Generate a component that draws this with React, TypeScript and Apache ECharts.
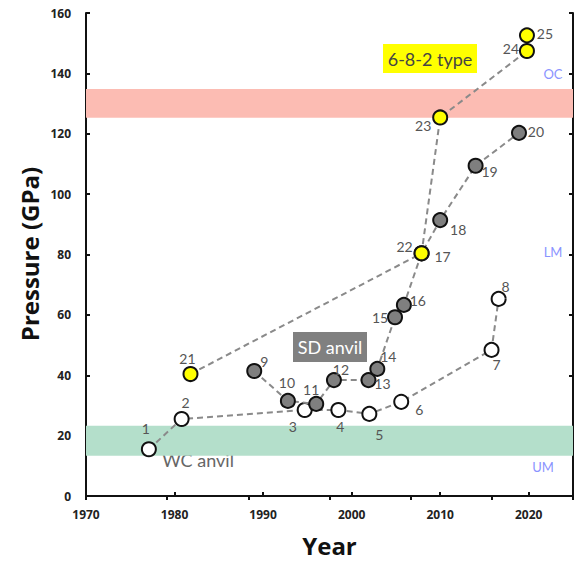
import React, { useEffect, useRef } from "react";
import * as echarts from "echarts";

// WC anvil (open circles), points 1-8
const wcIds = ["1", "2", "3", "4", "5", "6", "7", "8"];
const wcYears = [1977.1, 1980.8, 1994.7, 1998.5, 2002.0, 2005.6, 2015.8, 2016.6];
const wcPressures = [15.5, 25.5, 28.5, 28.5, 27.2, 31.2, 48.4, 65.3];

// SD anvil (gray), points 9-20
const sdIds = ["9", "10", "11", "12", "13", "14", "15", "16", "17", "18", "19", "20"];
const sdYears = [1989.0, 1992.8, 1996.0, 1998.0, 2001.9, 2002.9, 2004.9, 2005.9, 2007.9, 2010.0, 2014.0, 2018.9];
const sdPressures = [41.4, 31.5, 30.5, 38.4, 38.4, 42.1, 59.2, 63.3, 80.4, 91.4, 109.4, 120.3];

// 6-8-2 type (yellow), points 21-25
const ygIds = ["21", "22", "23", "24", "25"];
const ygYears = [1981.8, 2007.9, 2010.0, 2019.8, 2019.8];
const ygPressures = [40.4, 80.4, 125.4, 147.4, 152.6];

// pressure bands (GPa)
const bandDpp = [125.3, 134.8];
const bandMTZ = [13.3, 23.3];

const yTicks = { min: 0, max: 160, interval: 20 };
const xTicks = { min: 1970, max: 2025, interval: 10 };

// label offsets (px), styling only
const wcOffsets = [[-3, -21], [4, -17], [-12, 17], [2, 17], [10, 21], [18, 8], [5, 15], [7, -12]];
const sdOffsets = [[10, -10], [-1, -18], [-5, -14], [7, -11], [14, 3], [11, -12], [-15, 0], [14, -4], [21, 3], [18, 9], [14, 6], [17, -1]];
const ygOffsets = [[-3, -16], [-17, -7], [-17, 8], [-16, -3], [18, -2]];

const LABEL_FONT = "Lato, 'DejaVu Sans', sans-serif";

function makeData(ids: string[], xs: number[], ys: number[], offs: number[][]) {
  return ids.map((id, i) => ({
    name: id,
    value: [xs[i], ys[i]],
    label: { offset: offs[i] },
  }));
}

function makeSeries(name: string, ids: string[], xs: number[], ys: number[], offs: number[][], fill: string, z: number) {
  return {
    name,
    type: "line",
    xAxisIndex: 0,
    yAxisIndex: 0,
    data: makeData(ids, xs, ys, offs),
    symbol: "circle",
    symbolSize: 14,
    showAllSymbol: true,
    z,
    lineStyle: { color: "#8a8a8a", width: 2, type: [6, 4] },
    itemStyle: { color: fill, borderColor: "#111", borderWidth: 2 },
    label: {
      show: true,
      position: "inside",
      formatter: (p: any) => p.name,
      color: "#555",
      fontSize: 14,
      fontFamily: LABEL_FONT,
      align: "center",
      verticalAlign: "middle",
    },
    emphasis: { disabled: true },
  };
}

export default function App() {
  const ref = useRef<HTMLDivElement>(null);
  useEffect(() => {
    if (!ref.current) return;
    const chart = echarts.init(ref.current, undefined, { renderer: "svg" });
    const axisLine = { show: true, lineStyle: { color: "#111", width: 2 } };
    const axisTick = { show: true, inside: true, length: 4, lineStyle: { color: "#111", width: 2 } };
    chart.setOption({
      animation: false,
      grid: { left: 86, right: 6, top: 13, bottom: 69, containLabel: false, outerBoundsMode: "none" },
      xAxis: [
        {
          type: "value",
          min: xTicks.min,
          max: xTicks.max,
          interval: xTicks.interval,
          position: "bottom",
          axisLine,
          axisTick,
          splitLine: { show: false },
          axisLabel: {
            formatter: (v: number) => (v % 10 === 0 ? String(v) : ""),
            color: "#222",
            fontWeight: "bold",
            fontSize: 12,
            fontFamily: "'Open Sans', sans-serif",
            margin: 12,
          },
          name: "Year",
          nameLocation: "middle",
          nameGap: 37,
          nameTextStyle: { color: "#111", fontWeight: "bold", fontSize: 24, fontFamily: "'Open Sans', sans-serif" },
        },
        {
          type: "value",
          min: 0,
          max: 6,
          interval: 1,
          position: "top",
          axisLine,
          axisTick,
          splitLine: { show: false },
          axisLabel: { show: false },
        },
      ],
      yAxis: [
        {
          type: "value",
          min: yTicks.min,
          max: yTicks.max,
          interval: yTicks.interval,
          position: "left",
          axisLine,
          axisTick,
          splitLine: { show: false },
          axisLabel: {
            color: "#222",
            fontWeight: "bold",
            fontSize: 12,
            fontFamily: "'Open Sans', sans-serif",
            margin: 15,
          },
        },
        {
          type: "value",
          min: yTicks.min,
          max: yTicks.max,
          interval: yTicks.interval,
          position: "right",
          axisLine,
          axisTick,
          splitLine: { show: false },
          axisLabel: { show: false },
        },
      ],
      series: [
        {
          type: "line",
          data: [],
          z: 1,
          markArea: {
            silent: true,
            data: [
              [{ yAxis: bandDpp[0], itemStyle: { color: "#fcbcb3" } }, { yAxis: bandDpp[1] }],
              [{ yAxis: bandMTZ[0], itemStyle: { color: "#b4dfcb" } }, { yAxis: bandMTZ[1] }],
            ],
          },
        },
        makeSeries("WC anvil", wcIds, wcYears, wcPressures, wcOffsets, "#ffffff", 3),
        makeSeries("SD anvil", sdIds, sdYears, sdPressures, sdOffsets, "#7f7f7f", 4),
        makeSeries("6-8-2 type", ygIds, ygYears, ygPressures, ygOffsets, "#ffff00", 5),
      ],
      graphic: [
        {
          type: "text",
          x: 29,
          y: 254,
          rotation: Math.PI / 2,
          style: {
            text: "Pressure (GPa)",
            fill: "#111",
            font: "bold 24px 'Open Sans', sans-serif",
            textAlign: "center",
            textVerticalAlign: "middle",
          },
        },
        {
          type: "text",
          x: 198,
          y: 460,
          style: { text: "WC anvil", fill: "#666", font: `18px ${LABEL_FONT}`, textAlign: "center", textVerticalAlign: "middle" },
        },
        {
          type: "rect",
          shape: { x: 293, y: 332, width: 74, height: 30 },
          style: { fill: "#808080" },
        },
        {
          type: "text",
          x: 330,
          y: 347,
          style: { text: "SD anvil", fill: "#fff", font: `18px ${LABEL_FONT}`, textAlign: "center", textVerticalAlign: "middle" },
        },
        {
          type: "rect",
          shape: { x: 383, y: 44, width: 94, height: 29 },
          style: { fill: "#ffff00" },
        },
        {
          type: "text",
          x: 430,
          y: 59,
          style: { text: "6-8-2 type", fill: "#444", font: `18px ${LABEL_FONT}`, textAlign: "center", textVerticalAlign: "middle" },
        },
        {
          type: "text",
          x: 553,
          y: 74,
          style: { text: "OC", fill: "#8a93ff", font: `13px ${LABEL_FONT}`, textAlign: "center", textVerticalAlign: "middle" },
        },
        {
          type: "text",
          x: 556,
          y: 103,
          style: { text: "D\u201D", fill: "#1f3cff", font: `bold 18px 'Open Sans', sans-serif`, textAlign: "center", textVerticalAlign: "middle" },
        },
        {
          type: "text",
          x: 553,
          y: 252,
          style: { text: "LM", fill: "#8a93ff", font: `13px ${LABEL_FONT}`, textAlign: "center", textVerticalAlign: "middle" },
        },
        {
          type: "text",
          x: 543,
          y: 442,
          style: { text: "MTZ", fill: "#1f3cff", font: `bold 18px 'Open Sans', sans-serif`, textAlign: "center", textVerticalAlign: "middle" },
        },
        {
          type: "text",
          x: 543,
          y: 467,
          style: { text: "UM", fill: "#8a93ff", font: `13px ${LABEL_FONT}`, textAlign: "center", textVerticalAlign: "middle" },
        },
      ],
    });
    return () => chart.dispose();
  }, []);
  return <div ref={ref} style={{ position: "fixed", left: 0, top: 0, width: 579, height: 565, background: "#fff" }} />;
}
